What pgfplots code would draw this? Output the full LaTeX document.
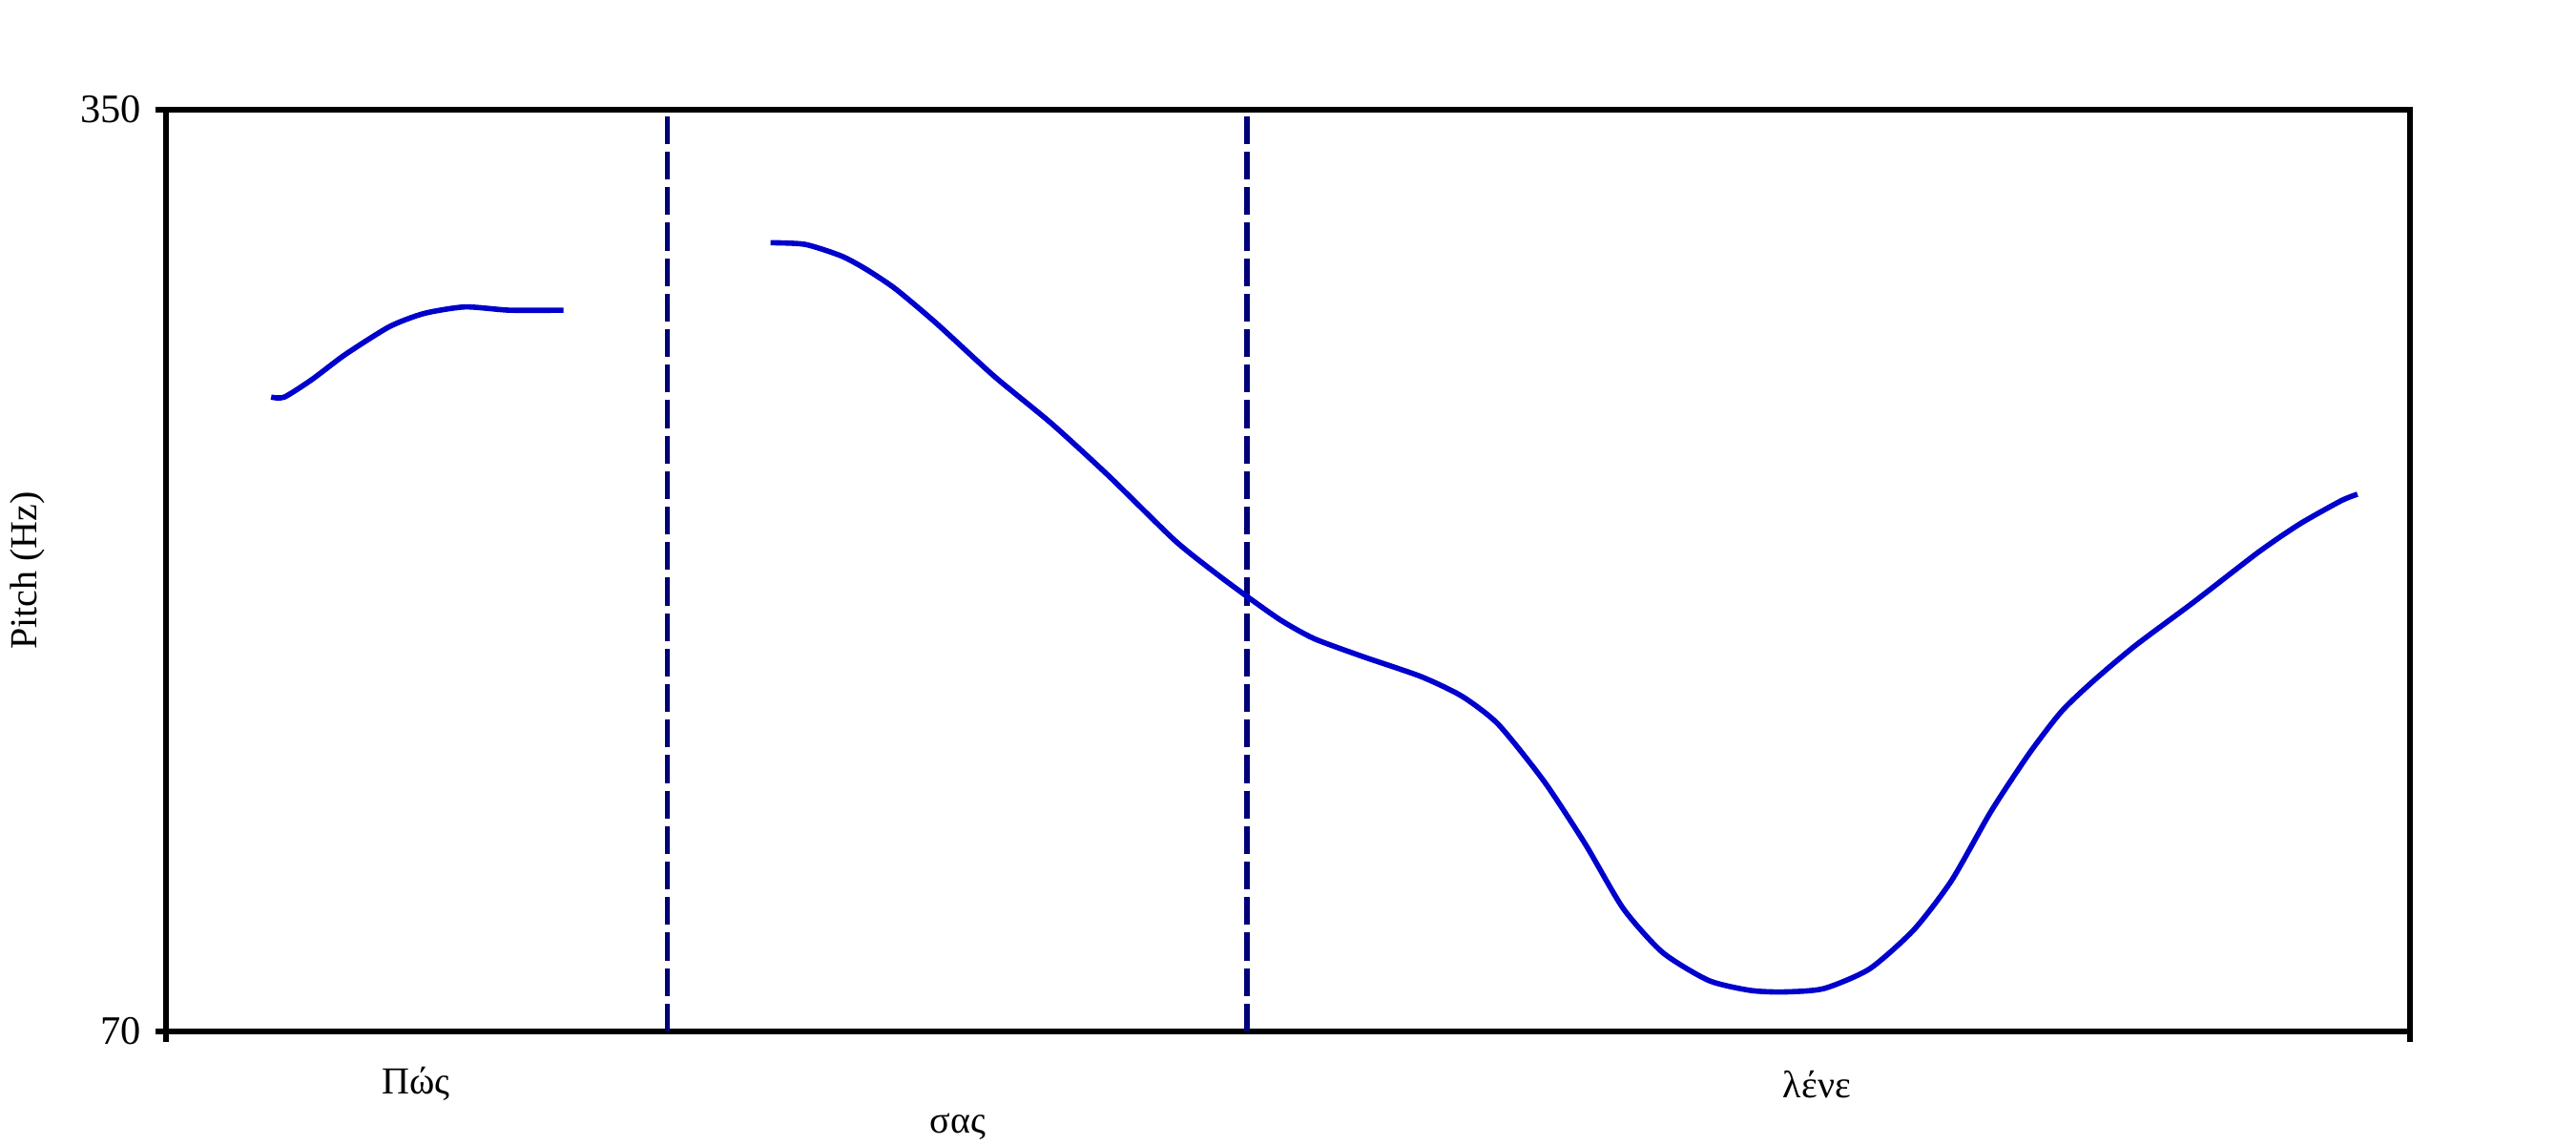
\documentclass[border=0pt]{standalone}
\usepackage{fontspec}
\setmainfont{Liberation Serif}
\usepackage{pgfplots}
\pgfplotsset{compat=1.18}
\definecolor{curveblue}{RGB}{0,0,205}
\definecolor{navyline}{RGB}{0,0,120}
\begin{document}
\fontsize{10}{12}\selectfont
\begin{tikzpicture}
\path[use as bounding box] (0,0) rectangle (675pt,300pt);
\begin{axis}[
  at={(43.5pt,29.75pt)}, anchor=south west,
  scale only axis, width=588pt, height=241.5pt,
  xmin=0, xmax=1366, ymin=70, ymax=350,
  xtick={0,1366}, xticklabels={,},
  ytick={70,350},
  xtick pos=left, ytick pos=left,
  tick align=outside, major tick length=2.75pt,
  axis line style={line width=1.7pt},
  every tick/.style={line width=1.7pt, black},
  tick label style={font=\fontsize{10.6}{12}\selectfont},
  /pgf/number format/assume math mode=true,
  yticklabel style={xshift=-0.3pt},
  ylabel={Pitch (Hz)},
  ylabel style={at={(axis description cs:-0.0617,0.5)}, anchor=center, font=\fontsize{10}{12}\selectfont},
  clip=false,
]
\addplot[navyline, line width=1.3pt, dash pattern=on 7.3pt off 2pt] coordinates {(305,70) (305,350)};
\addplot[navyline, line width=1.3pt, dash pattern=on 7.3pt off 2pt] coordinates {(658,70) (658,350)};
\addplot[curveblue, line width=1.4pt, smooth, tension=0.4] coordinates {
(64,262.7) (72,262.7) (89,268.1) (109,275.6) (136,284.1) (157,288.1) (182,290.1) (209,289.1) (242,289.1)
};
\addplot[curveblue, line width=1.4pt, smooth, tension=0.4] coordinates {
(368,309.6) (389,309.1) (411,305.6) (426,301.6) (444,295.6) (469,285.1) (504,269.1) (539,254.7) (574,238.7)
(614,219.2) (639,209.2) (659,201.8) (679,194.8) (699,189.3) (729,183.8) (764,177.8) (789,171.8) (811,163.3)
(839,145.9) (864,126.9) (887,107.4) (911,94.0) (939,85.5) (964,82.5) (984,82.0) (1009,83.0) (1037,89.0)
(1064,100.9) (1087,115.9) (1111,136.9) (1134,154.3) (1154,167.3) (1174,176.8) (1199,187.3) (1234,200.3)
(1274,215.7) (1299,224.2) (1324,231.2) (1334,233.2)
};
\node at (axis cs:152,54) {Πώς};
\node at (axis cs:482,41.1) {σας};
\node at (axis cs:1005,54) {λένε};
\end{axis}
\end{tikzpicture}
\end{document}
